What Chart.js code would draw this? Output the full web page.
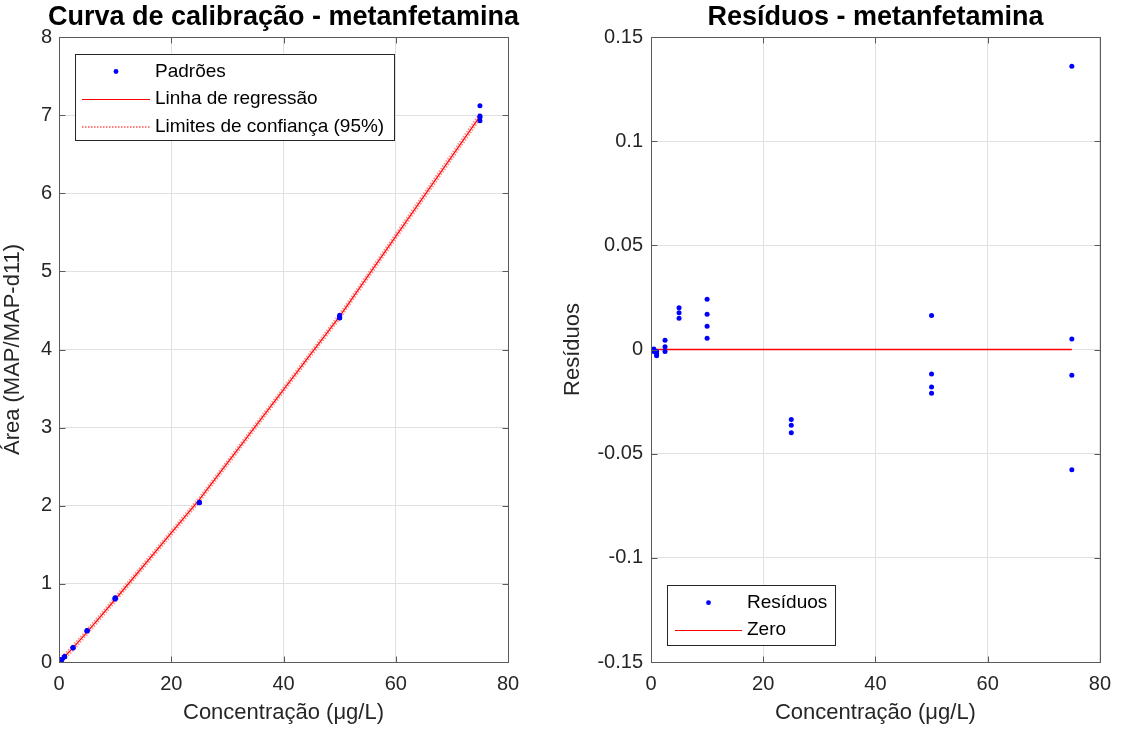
<!DOCTYPE html>
<html><head><meta charset="utf-8">
<script src="https://cdn.jsdelivr.net/npm/chart.js@4/dist/chart.umd.min.js"></script>
<style>html,body{margin:0;padding:0;background:#fff;width:1121px;height:730px;overflow:hidden}canvas{position:absolute;top:0}</style>
</head><body>
<canvas id="c1" width="560" height="730" style="left:0px"></canvas>
<canvas id="c2" width="561" height="730" style="left:560px"></canvas>
<script>
// ---- data ----
const concentrations = [0.5,0.5,0.5, 1,1,1, 2.5,2.5,2.5, 5,5,5, 10,10,10,10, 25,25,25, 50,50,50,50, 75,75,75,75];
const areas = [0.034,0.033,0.032, 0.069,0.068,0.067, 0.185,0.181,0.179, 0.403,0.401,0.398, 0.824,0.817,0.811,0.805, 2.043,2.041,2.037, 4.440,4.412,4.405,4.403, 7.120,6.990,6.973,6.927];
const residuals = [0.0003,0,-0.001, -0.001,-0.002,-0.003, 0.0045,0.0013,-0.001, 0.020,0.0176,0.015, 0.0241,0.0169,0.0112,0.0054, -0.0336,-0.0363,-0.040, 0.0163,-0.0117,-0.018,-0.021, 0.136,0.0051,-0.0123,-0.0577];
const fitX = [0.5, 1, 2.5, 5, 10, 25, 50, 75];
const fitY = [0.033, 0.070, 0.180, 0.383, 0.800, 2.077, 4.424, 6.985];
const upperY = [0.068, 0.104, 0.214, 0.417, 0.833, 2.109, 4.457, 7.025];
const lowerY = [-0.002, 0.036, 0.146, 0.349, 0.767, 2.045, 4.391, 6.945];
const zeroX = [0.5, 75];
const zeroY = [0, 0];
const calXTicks = [0, 20, 40, 60, 80];
const calYTicks = [0, 1, 2, 3, 4, 5, 6, 7, 8];
const resXTicks = [0, 20, 40, 60, 80];
const resYTicks = [-0.15, -0.1, -0.05, 0, 0.05, 0.1, 0.15];

const FONT = '"Liberation Sans", Arial, sans-serif';
const AXC = '#262626';
const pts = (xs, ys) => xs.map((x, i) => ({x: x, y: ys[i]}));

const matlabPlugin = {
  id: 'matlab',
  afterDraw(chart, args, o) {
    const ctx = chart.ctx, a = chart.chartArea;
    const xs = chart.scales.x, ys = chart.scales.y;
    ctx.save();
    const L = Math.round(a.left) + 0.5, R = Math.round(a.right) + 0.5, T = Math.round(a.top) + 0.5, B = Math.round(a.bottom) + 0.5;
    ctx.strokeStyle = '#5a5a5a'; ctx.lineWidth = 1;
    ctx.beginPath();
    const tl = 6;
    xs.ticks.forEach(t => { const p = Math.round(xs.getPixelForValue(t.value)) + 0.5; ctx.moveTo(p, B); ctx.lineTo(p, B - tl); ctx.moveTo(p, T); ctx.lineTo(p, T + tl); });
    ys.ticks.forEach(t => { const p = Math.round(ys.getPixelForValue(t.value)) + 0.5; ctx.moveTo(L, p); ctx.lineTo(L + tl, p); ctx.moveTo(R, p); ctx.lineTo(R - tl, p); });
    ctx.stroke();
    ctx.strokeRect(L, T, R - L, B - T);
    // title
    ctx.fillStyle = '#000';
    ctx.font = 'bold 27px ' + FONT;
    ctx.textAlign = 'center'; ctx.textBaseline = 'middle';
    ctx.fillText(o.title, (a.left + a.right) / 2, o.titleY);
    // legend
    const g = o.legend;
    ctx.fillStyle = '#fff';
    ctx.fillRect(g.x, g.y, g.w, g.h);
    ctx.strokeStyle = AXC; ctx.lineWidth = 1;
    ctx.strokeRect(g.x + 0.5, g.y + 0.5, g.w, g.h);
    ctx.font = g.font + 'px ' + FONT;
    ctx.textAlign = 'left'; ctx.textBaseline = 'middle';
    g.items.forEach((it, i) => {
      const y = g.row0 + i * g.rowH;
      if (it.kind === 'dot') {
        ctx.fillStyle = '#0000ff';
        ctx.beginPath(); ctx.arc((g.s0 + g.s1) / 2, y, 2.4, 0, Math.PI * 2); ctx.fill();
      } else {
        ctx.strokeStyle = it.color; ctx.lineWidth = it.width;
        ctx.setLineDash(it.dash || []);
        ctx.beginPath(); ctx.moveTo(g.s0, y + 0.5); ctx.lineTo(g.s1, y + 0.5); ctx.stroke();
        ctx.setLineDash([]);
      }
      ctx.fillStyle = '#000';
      ctx.fillText(it.label, g.tx, y);
    });
    ctx.restore();
  }
};

function axis(ticksArr, min, max, size, title, titlePad, tickPad, isX) {
  return {
    type: 'linear', min: min, max: max,
    afterBuildTicks: s => { s.ticks = ticksArr.map(v => ({value: v})); },
    afterFit: s => { if (isX) s.height = size; else s.width = size; },
    grid: {color: '#e0e0e0', lineWidth: 1, drawTicks: false},
    border: {display: false},
    ticks: {color: AXC, font: {family: FONT, size: 20}, padding: tickPad, callback: v => String(v), autoSkip: false, maxRotation: 0},
    title: {display: true, text: title, color: AXC, font: {family: FONT, size: 22}, padding: titlePad}
  };
}

const baseOpts = {responsive: false, animation: false, devicePixelRatio: 1, events: []};

new Chart(document.getElementById('c1'), {
  type: 'scatter',
  data: {datasets: [
    {label: 'Padrões', data: pts(concentrations, areas), backgroundColor: '#0000ff', borderColor: '#0000ff', pointRadius: 2.5, pointBorderWidth: 0, showLine: false},
    {label: 'Linha de regressão', data: pts(fitX, fitY), borderColor: '#ff0000', borderWidth: 1.2, pointRadius: 0, showLine: true},
    {label: 'Limites de confiança (95%)', data: pts(fitX, upperY), borderColor: 'rgba(255,60,60,0.6)', borderWidth: 1.8, borderDash: [1.5, 1.5], pointRadius: 0, showLine: true},
    {label: 'Limites de confiança (95%) inferior', data: pts(fitX, lowerY), borderColor: 'rgba(255,60,60,0.6)', borderWidth: 1.8, borderDash: [1.5, 1.5], pointRadius: 0, showLine: true}
  ]},
  options: Object.assign({}, baseOpts, {
    layout: {padding: {left: 0, right: 52, top: 37, bottom: 0}},
    plugins: {legend: {display: false}, tooltip: {enabled: false},
      matlab: {title: 'Curva de calibração - metanfetamina', titleY: 18,
        legend: {x: 75, y: 54, w: 319, h: 86, font: 19, row0: 71.5, rowH: 27.5, s0: 82, s1: 150, tx: 155,
          items: [{kind: 'dot', label: 'Padrões'},
                  {kind: 'line', label: 'Linha de regressão', color: '#ff0000', width: 1},
                  {kind: 'line', label: 'Limites de confiança (95%)', color: 'rgba(255,40,40,0.8)', width: 1.5, dash: [1.5, 1.5]}]}}},
    scales: {
      x: axis(calXTicks, 0, 80, 68, 'Concentração (μg/L)', {top: 0, bottom: 4}, 10, true),
      y: axis(calYTicks, 0, 8, 59, 'Área (MAP/MAP-d11)', {top: 0, bottom: 8}, 7, false)
    }
  }),
  plugins: [matlabPlugin]
});

new Chart(document.getElementById('c2'), {
  type: 'scatter',
  data: {datasets: [
    {label: 'Resíduos', data: pts(concentrations, residuals), backgroundColor: '#0000ff', borderColor: '#0000ff', pointRadius: 2.5, pointBorderWidth: 0, showLine: false},
    {label: 'Zero', data: pts(zeroX, zeroY), borderColor: '#ff0000', borderWidth: 1.3, pointRadius: 0, showLine: true}
  ]},
  options: Object.assign({}, baseOpts, {
    layout: {padding: {left: 0, right: 20, top: 37, bottom: 0}},
    plugins: {legend: {display: false}, tooltip: {enabled: false},
      matlab: {title: 'Resíduos - metanfetamina', titleY: 18,
        legend: {x: 107, y: 585, w: 168, h: 60, font: 19, row0: 602.7, rowH: 27.3, s0: 115, s1: 182, tx: 187,
          items: [{kind: 'dot', label: 'Resíduos'},
                  {kind: 'line', label: 'Zero', color: '#ff0000', width: 1}]}}},
    scales: {
      x: axis(resXTicks, 0, 80, 68, 'Concentração (μg/L)', {top: 0, bottom: 4}, 10, true),
      y: axis(resYTicks, -0.15, 0.15, 91, 'Resíduos', {top: 0, bottom: 4}, 8, false)
    }
  }),
  plugins: [matlabPlugin]
});
</script>
</body></html>
